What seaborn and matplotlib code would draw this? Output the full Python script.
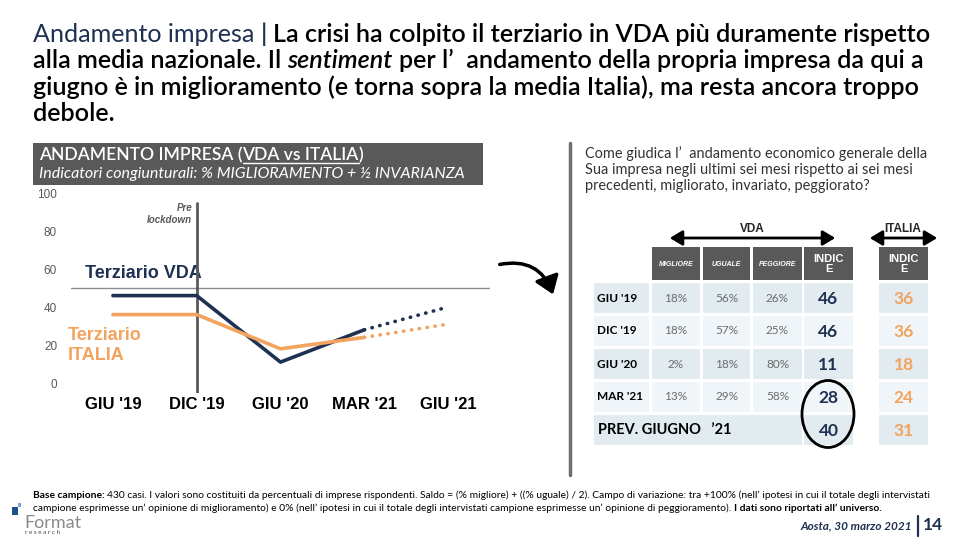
import numpy as np
import pandas as pd
import seaborn as sns
import matplotlib
matplotlib.use("Agg")
import matplotlib.pyplot as plt
from matplotlib.patches import Rectangle, Ellipse, FancyArrowPatch

# ---------------- data ----------------
periods = ["GIU '19", "DIC '19", "GIU '20", "MAR '21", "GIU '21"]
vda_index = [46, 46, 11, 28, 40]
ita_index = [36, 36, 18, 24, 31]
y_ticks = [0, 20, 40, 60, 80, 100]

table_rows = ["GIU '19", "DIC '19", "GIU '20", "MAR '21"]
migliore = [18, 18, 2, 13]
uguale = [56, 57, 18, 29]
peggiore = [26, 25, 80, 58]
table_headers = ["MIGLIORE", "UGUALE", "PEGGIORE", "INDIC\nE"]
prev_label = "PREV. GIUGNO   \u201921"

NAVY = "#1f3152"
ORANGE = "#f2a35e"
DARK = "#595959"

sns.set_theme(style="white")
plt.rcParams['font.family'] = ['Lato', 'DejaVu Sans']

fig = plt.figure(figsize=(9.6, 5.4), dpi=100)
ov = fig.add_axes([0, 0, 1, 1])
ov.set_xlim(0, 960)
ov.set_ylim(540, 0)
ov.axis('off')

renderer = fig.canvas.get_renderer()


def measure(s, size, **kw):
    t = ov.text(0, 0, s, fontsize=size, **kw)
    w = t.get_window_extent(renderer).width
    t.remove()
    return w


def runs(x, y, parts, size, **common):
    cur = x
    exts = []
    for s, p in parts:
        props = dict(common)
        props.update(p)
        sw = measure("a a", size, **props) - measure("aa", size, **props)
        if s.startswith(" "):
            cur += sw
        core = s.strip(" ")
        t = ov.text(cur, y, core, fontsize=size, va='baseline', ha='left', **props)
        w = t.get_window_extent(renderer).width
        exts.append((cur, cur + w))
        cur += w
        if s.endswith(" ") and len(s) > 1:
            cur += sw
    return exts


def runs_width(parts, size, **common):
    tot = 0
    for s, p in parts:
        props = dict(common)
        props.update(p)
        sw = measure("a a", size, **props) - measure("aa", size, **props)
        if s.startswith(" "):
            tot += sw
        tot += measure(s.strip(" "), size, **props)
        if s.endswith(" ") and len(s) > 1:
            tot += sw
    return tot


# ---------------- title ----------------
B = {'fontweight': 'semibold', 'color': 'black'}
title_lines = [
    [("Andamento impresa ", {'color': NAVY}), ("| ", {'color': NAVY, 'fontweight': 'semibold'}),
     ("La crisi ha colpito il terziario in VDA più duramente rispetto", B)],
    [("alla media nazionale. Il ", B), ("sentiment", dict(B, fontstyle='italic')),
     (" per l\u2019  andamento della propria impresa da qui a", B)],
    [("giugno è in miglioramento (e torna sopra la media Italia), ma resta ancora troppo", B)],
    [("debole.", B)],
]
base = 14
tsize = base * 900 / runs_width(title_lines[0], base)
for i, ln in enumerate(title_lines):
    runs(33, 42 + i * 26.3, ln, tsize)

# ---------------- left header box ----------------
ov.add_patch(Rectangle((33, 143), 450, 42, color=DARK, lw=0))
hparts = [("ANDAMENTO IMPRESA (", {}), ("VDA vs ITALIA", {}), (")", {})]
hs = 11 * 323 / runs_width(hparts, 11, color='white', fontweight='semibold')
ex = runs(39, 160, hparts, hs, color='white', fontweight='semibold')
ov.plot([ex[1][0], ex[1][1]], [162.5, 162.5], color='white', lw=1)
sub = [("Indicatori congiunturali: % MIGLIORAMENTO + ½ INVARIANZA", {})]
ss = 10 * 428 / runs_width(sub, 10, color='white', fontstyle='italic')
runs(39, 178, sub, ss, color='white', fontstyle='italic')

# ---------------- line chart ----------------
ax = fig.add_axes([71 / 960, (540 - 392.5) / 540, 419 / 960, 209 / 540])
ax.patch.set_alpha(0)
df = pd.DataFrame({"pos": np.arange(len(periods)), "period": periods,
                   "VDA": vda_index, "ITALIA": ita_index})
actual = df.iloc[:4]
forecast = df.iloc[3:]
sns.lineplot(data=actual, x="pos", y="VDA", color=NAVY, lw=2.6, ax=ax)
sns.lineplot(data=actual, x="pos", y="ITALIA", color=ORANGE, lw=2.6, ax=ax)
for col, c in (("VDA", NAVY), ("ITALIA", ORANGE)):
    sns.lineplot(data=forecast, x="pos", y=col, color=c, lw=2.6, ax=ax,
                 linestyle=(0, (0.1, 2.1)), dash_capstyle='round')
ax.axhline(50, color="#8c8c8c", lw=1, zorder=0)
ax.axvline(1, ymin=0, ymax=100 / 110, color=DARK, lw=2, zorder=0)
ax.set_xlim(-0.5, 4.5)
ax.set_ylim(-5, 105)
ax.set_xticks(np.arange(len(periods)))
ax.set_xticklabels(periods, fontfamily='Liberation Sans', fontweight='bold', fontsize=12, color='black')
ax.set_yticks(y_ticks)
ax.set_yticklabels([str(v) for v in y_ticks], fontfamily='Liberation Sans', fontsize=8.5, color=DARK)
ax.tick_params(axis='x', length=0, pad=3)
ax.tick_params(axis='y', length=0, pad=10)
ax.set_xlabel("")
ax.set_ylabel("")
sns.despine(ax=ax, left=True, bottom=True)

ov.text(192, 211, "Pre", fontsize=7, fontstyle='italic', fontweight='bold', color=DARK,
        ha='right', va='baseline', fontfamily='Liberation Sans')
ov.text(192, 223, "lockdown", fontsize=7, fontstyle='italic', fontweight='bold', color=DARK,
        ha='right', va='baseline', fontfamily='Liberation Sans')
ov.text(85, 273, "Terziario VDA", fontsize=13, fontweight='bold', color=NAVY,
        ha='left', va='center', fontfamily='Liberation Sans')
ov.text(68, 335, "Terziario", fontsize=13, fontweight='bold', color=ORANGE,
        ha='left', va='center', fontfamily='Liberation Sans')
ov.text(68, 356, "ITALIA", fontsize=13, fontweight='bold', color=ORANGE,
        ha='left', va='center', fontfamily='Liberation Sans')

# curved arrow
ov.add_patch(FancyArrowPatch((497, 265), (554, 297), connectionstyle="arc3,rad=-0.45",
                             arrowstyle="-|>,head_length=7,head_width=5", color='black', lw=2.5,
                             mutation_scale=1.5))

# divider
ov.plot([570, 570], [143, 475], color="#6e6e6e", lw=2.5)

# ---------------- question ----------------
q = ["Come giudica l\u2019  andamento economico generale della",
     "Sua impresa negli ultimi sei mesi rispetto ai sei mesi",
     "precedenti, migliorato, invariato, peggiorato?"]
qs = 9 * 343 / measure(q[0], 9)
for i, line in enumerate(q):
    ov.text(585, 158 + i * 16, line, fontsize=qs, color='#333333', va='baseline', ha='left')

# ---------------- table ----------------
ov.add_patch(FancyArrowPatch((667, 238), (838, 238), arrowstyle="<|-|>,head_length=5,head_width=3",
                             color='black', lw=2, mutation_scale=1.5))
ov.add_patch(FancyArrowPatch((867, 238), (940, 238), arrowstyle="<|-|>,head_length=5,head_width=3",
                             color='black', lw=2, mutation_scale=1.5))
ov.text(752, 229, "VDA", fontsize=8.5, fontweight='bold', ha='center', va='center', fontfamily='Liberation Sans')
ov.text(903, 229, "ITALIA", fontsize=8.5, fontweight='bold', ha='center', va='center', fontfamily='Liberation Sans')

col_x = [(652, 700), (703, 750), (753, 802), (804, 853)]
ita_x = (879, 928)
hy0, hy1 = 247, 280
for (x0, x1), h in zip(col_x, table_headers):
    ov.add_patch(Rectangle((x0, hy0), x1 - x0, hy1 - hy0, color=DARK, lw=0))
    if "\n" in h:
        ov.text((x0 + x1) / 2, (hy0 + hy1) / 2, h, fontsize=8, fontweight='bold', color='white',
                ha='center', va='center', linespacing=1.0, fontfamily='Liberation Sans')
    else:
        ov.text((x0 + x1) / 2, (hy0 + hy1) / 2 + 1, h, fontsize=5, fontweight='bold', fontstyle='italic',
                color='white', ha='center', va='center', fontfamily='Liberation Sans')
ov.add_patch(Rectangle((ita_x[0], hy0), ita_x[1] - ita_x[0], hy1 - hy0, color=DARK, lw=0))
ov.text(sum(ita_x) / 2, (hy0 + hy1) / 2, table_headers[3], fontsize=8, fontweight='bold', color='white',
        ha='center', va='center', linespacing=1.0, fontfamily='Liberation Sans')

row_tops = [283, 316, 349, 382, 415]
rh = 30
fills = ["#e1ebf0", "#eff5f8"]
for i, top in enumerate(row_tops):
    fc = fills[i % 2]
    yc = top + rh / 2
    if i < len(table_rows):
        ov.add_patch(Rectangle((594, top), 55, rh, color=fc, lw=0))
        ov.text(597, yc, table_rows[i], fontsize=8.5, fontweight='bold', ha='left', va='center', color='black')
        for (x0, x1), v in zip(col_x[:3], (migliore[i], uguale[i], peggiore[i])):
            ov.add_patch(Rectangle((x0, top), x1 - x0, rh, color=fc, lw=0))
            ov.text((x0 + x1) / 2, yc, f"{v}%", fontsize=8.5, color='#6b6b6b', ha='center', va='center')
    else:
        ov.add_patch(Rectangle((594, top), 802 - 594, rh, color=fc, lw=0))
        ov.text(598, yc, prev_label, fontsize=10.5, fontweight='bold', ha='left', va='center', color='black')
    x0, x1 = col_x[3]
    ov.add_patch(Rectangle((x0, top), x1 - x0, rh, color=fc, lw=0))
    ov.text((x0 + x1) / 2, yc + 1, str(vda_index[i]), fontsize=12.5, fontweight='bold', color=NAVY,
            ha='center', va='center')
    ov.add_patch(Rectangle((ita_x[0], top), ita_x[1] - ita_x[0], rh, color=fc, lw=0))
    ov.text(sum(ita_x) / 2, yc + 1, str(ita_index[i]), fontsize=12.5, fontweight='bold', color=ORANGE,
            ha='center', va='center')

ov.add_patch(Ellipse((828, 414), 52, 67, fill=False, ec='black', lw=2))

# ---------------- footer ----------------
f1 = [("Base campione: ", {'fontweight': 'bold'}),
      ("430 casi. I valori sono costituiti da percentuali di imprese rispondenti. Saldo = (% migliore) + ((% uguale) / 2). Campo di variazione: tra +100% (nell\u2019 ipotesi in cui il totale degli intervistati", {})]
f2 = [("campione esprimesse un\u2019 opinione di miglioramento) e 0% (nell\u2019 ipotesi in cui il totale degli intervistati campione esprimesse un\u2019 opinione di peggioramento). ", {}),
      ("I dati sono riportati all\u2019 universo.", {'fontweight': 'bold'})]
fs = 6 * 902 / runs_width(f1, 6, color='black')
runs(33, 498, f1, fs, color='black')
runs(33, 511, f2, fs, color='black')

# logo
ov.add_patch(Rectangle((12, 507), 6, 8, color="#1f4e8c", lw=0))
ov.add_patch(Rectangle((18, 503), 3, 4, color="#7aa6d6", lw=0))
ov.text(24, 523, "Format", fontsize=13, color="#8a8a8a", ha='left', va='center')
ov.text(25, 533, "r e s e a r c h", fontsize=4.5, color="#444444", ha='left', va='center')

ov.text(912, 526, "Aosta, 30 marzo 2021", fontsize=8.5, fontweight='bold', fontstyle='italic',
        color=NAVY, ha='right', va='center')
ov.plot([918, 918], [516, 536], color=NAVY, lw=1.6)
ov.text(923, 525, "14", fontsize=12.5, fontweight='bold', color=NAVY, ha='left', va='center')

fig.savefig("out.png", dpi=100)
